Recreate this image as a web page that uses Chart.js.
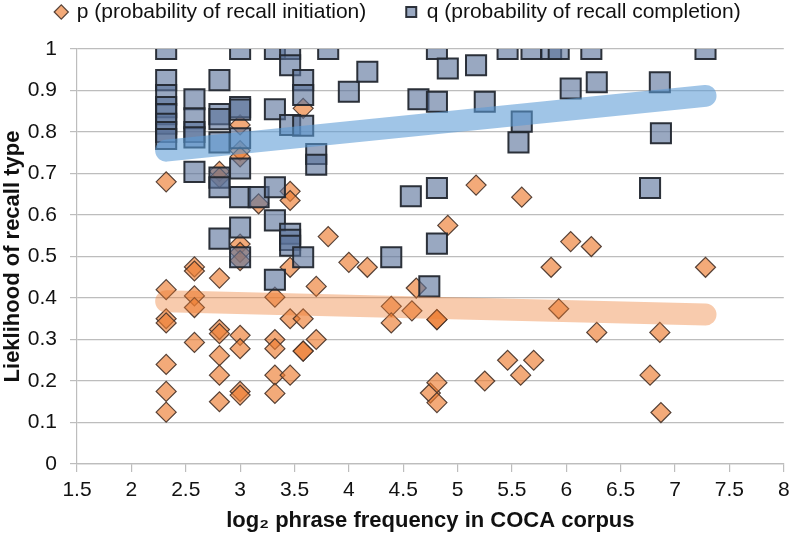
<!DOCTYPE html>
<html>
<head>
<meta charset="utf-8">
<script src="https://cdn.jsdelivr.net/npm/chart.js@4.4.1/dist/chart.umd.min.js"></script>
<style>
  html, body { margin: 0; padding: 0; background: #fff; }
  #wrap { width: 800px; height: 534px; }
</style>
</head>
<body>
<div id="wrap"><canvas id="c" width="800" height="534"></canvas></div>
<script>
// p: probability of recall initiation (diamonds)
const pFreq = [
  2.32, 2.32, 2.32, 2.32, 2.32, 2.32, 2.32,
  2.58, 2.58, 2.58, 2.58, 2.58,
  2.81, 2.81, 2.81, 2.81, 2.81, 2.81, 2.81, 2.81,
  3.0, 3.0, 3.0, 3.0, 3.0, 3.0, 3.0, 3.0, 3.0, 3.0,
  3.17,
  3.32, 3.32, 3.32, 3.32, 3.32,
  3.46, 3.46, 3.46, 3.46, 3.46,
  3.58, 3.58, 3.58, 3.58,
  3.7, 3.7,
  3.81, 4.0, 4.17,
  4.39, 4.39,
  4.58, 4.62, 4.75,
  4.81, 4.81, 4.81, 4.81,
  4.91, 5.17, 5.25, 5.46, 5.58, 5.59, 5.7, 5.86, 5.93,
  6.04, 6.23, 6.28, 6.77, 6.86, 6.87, 7.28
];
const pProb = [
  0.68, 0.42, 0.35, 0.34, 0.24, 0.175, 0.125,
  0.475, 0.465, 0.405, 0.377, 0.293,
  0.705, 0.69, 0.448, 0.324, 0.314, 0.261, 0.214, 0.15,
  0.817, 0.755, 0.74, 0.53, 0.51, 0.49, 0.31, 0.278, 0.175, 0.166,
  0.627,
  0.402, 0.30, 0.278, 0.214, 0.17,
  0.657, 0.635, 0.474, 0.35, 0.214,
  0.857, 0.35, 0.272, 0.272,
  0.428, 0.30,
  0.548, 0.486, 0.474,
  0.38, 0.34,
  0.369, 0.424, 0.171,
  0.348, 0.348, 0.196, 0.148,
  0.575, 0.672, 0.2, 0.25, 0.214, 0.643, 0.25, 0.474, 0.374,
  0.536, 0.524, 0.317, 0.214, 0.317, 0.124, 0.474
];

// q: probability of recall completion (squares)
const qFreq = [
  2.32, 2.32, 2.32, 2.32, 2.32, 2.32, 2.32, 2.32,
  2.58, 2.58, 2.58, 2.58, 2.58,
  2.81, 2.81, 2.81, 2.81, 2.81, 2.81, 2.81,
  3.0, 3.0, 3.0, 3.0, 3.0, 3.0, 3.0, 3.0,
  3.17,
  3.32, 3.32, 3.32, 3.32, 3.32,
  3.46, 3.46, 3.46, 3.46, 3.46, 3.46,
  3.58, 3.58, 3.58, 3.58,
  3.7, 3.7,
  3.81, 4.0, 4.17, 4.39, 4.57, 4.64, 4.74,
  4.81, 4.81, 4.81, 4.81,
  4.91, 5.17, 5.25, 5.46, 5.56, 5.59, 5.68, 5.86, 5.93,
  6.04, 6.23, 6.28, 6.77, 6.86, 6.87, 7.28
];
const qProb = [
  1.0, 0.925, 0.889, 0.86, 0.843, 0.82, 0.80, 0.783,
  0.879, 0.833, 0.80, 0.787, 0.704,
  0.925, 0.843, 0.831, 0.775, 0.69, 0.667, 0.543,
  1.0, 0.86, 0.854, 0.785, 0.712, 0.643, 0.57, 0.498,
  0.643,
  1.0, 0.855, 0.667, 0.587, 0.444,
  1.0, 0.961, 0.817, 0.555, 0.54, 0.526,
  0.925, 0.889, 0.815, 0.498,
  0.747, 0.721,
  1.0, 0.897, 0.945, 0.498, 0.645, 0.879, 0.428,
  1.0, 0.873, 0.665, 0.531,
  0.953, 0.961, 0.873, 1.0, 0.775, 0.825, 1.0, 1.0, 1.0,
  0.905, 1.0, 0.92, 0.665, 0.92, 0.797, 1.0
];

// linear trend lines (end points)
const trendFreq = [2.32, 7.28];
const trendP = [0.392, 0.36];
const trendQ = [0.755, 0.887];

const seriesLabels = ['p (probability of recall initiation)', 'q (probability of recall completion)'];
const xTitle = 'log\u2082 phrase frequency in COCA corpus';
const yTitle = 'Lieklihood of recall type';

const toPts = (xs, ys) => xs.map((x, i) => ({ x: x, y: ys[i] }));
const fmtTick = (v) => String(Number(v.toFixed(2)));

const FONT = "'Liberation Sans', Arial, sans-serif";

const legendFix = {
  id: 'legendFix',
  beforeLayout(chart) {
    const lg = chart.legend;
    if (lg && !lg._fixedFit) {
      const f = lg.fit;
      lg.fit = function () { f.call(this); this.height = 49; };
      lg._fixedFit = true;
    }
  },
  afterLayout(chart) {
    const lg = chart.legend;
    if (lg) { lg.top = -38.5; lg.bottom = 49; lg.height = lg.bottom - lg.top; }
  }
};

new Chart(document.getElementById('c'), {
  type: 'scatter',
  data: {
    datasets: [
      {
        label: seriesLabels[0],
        data: toPts(pFreq, pProb),
        pointStyle: 'rectRot',
        pointRadius: 10,
        pointHoverRadius: 10,
        backgroundColor: 'rgba(237,125,49,0.65)',
        borderColor: 'rgba(70,50,40,0.9)',
        borderWidth: 1.2,
        order: 2
      },
      {
        label: seriesLabels[1],
        data: toPts(qFreq, qProb),
        pointStyle: 'rect',
        pointRadius: 14.2,
        pointHoverRadius: 14.2,
        backgroundColor: 'rgba(90,115,155,0.62)',
        borderColor: 'rgba(35,40,48,0.95)',
        borderWidth: 2,
        order: 1
      },
      {
        label: 'trend p',
        data: toPts(trendFreq, trendP),
        showLine: true,
        pointRadius: 0,
        borderColor: 'rgba(237,125,49,0.4)',
        borderWidth: 22,
        borderCapStyle: 'round',
        order: 0
      },
      {
        label: 'trend q',
        data: toPts(trendFreq, trendQ),
        showLine: true,
        pointRadius: 0,
        borderColor: 'rgba(91,155,213,0.58)',
        borderWidth: 22,
        borderCapStyle: 'round',
        order: 0
      }
    ]
  },
  options: {
    responsive: false,
    animation: false,
    devicePixelRatio: 1,
    layout: { padding: { top: 0, left: 0, right: 3, bottom: 0 } },
    plugins: {
      tooltip: { enabled: false },
      legend: {
        display: true,
        position: 'top',
        labels: {
          usePointStyle: true,
          boxWidth: 10,
          boxHeight: 10,
          padding: 40,
          color: '#111',
          font: { family: FONT, size: 21 },
          filter: (item) => item.datasetIndex < 2,
          sort: (a, b) => a.datasetIndex - b.datasetIndex
        }
      }
    },
    scales: {
      x: {
        type: 'linear',
        min: 1.5,
        max: 8,
        afterFit: (s) => { s.height = 70; s.paddingLeft = 0; s.paddingRight = 0; },
        ticks: {
          stepSize: 0.5,
          color: '#111',
          font: { family: FONT, size: 21 },
          padding: 6,
          maxRotation: 0,
          autoSkip: false,
          callback: fmtTick
        },
        grid: {
          drawOnChartArea: false,
          drawTicks: true,
          tickLength: 8,
          color: '#BDBDBD',
          lineWidth: 1.2
        },
        border: { display: true, color: '#BDBDBD', width: 1.2 },
        title: {
          display: true,
          text: xTitle,
          color: '#111',
          font: { family: FONT, size: 22, weight: 'bold' },
          padding: { top: 0, bottom: 0 }
        }
      },
      y: {
        type: 'linear',
        min: 0,
        max: 1,
        afterFit: (s) => { s.width = 77; s.paddingTop = 0; s.paddingBottom = 0; },
        ticks: {
          stepSize: 0.1,
          color: '#111',
          font: { family: FONT, size: 21 },
          padding: 13,
          callback: fmtTick
        },
        grid: {
          drawOnChartArea: true,
          drawTicks: true,
          tickLength: 7,
          color: '#BDBDBD',
          lineWidth: 1.2
        },
        border: { display: true, color: '#BDBDBD', width: 1.2 },
        title: {
          display: true,
          text: yTitle,
          color: '#111',
          font: { family: FONT, size: 22, weight: 'bold' },
          padding: { top: 0, bottom: 0 }
        }
      }
    }
  },
  plugins: [legendFix]
});
</script>
</body>
</html>
